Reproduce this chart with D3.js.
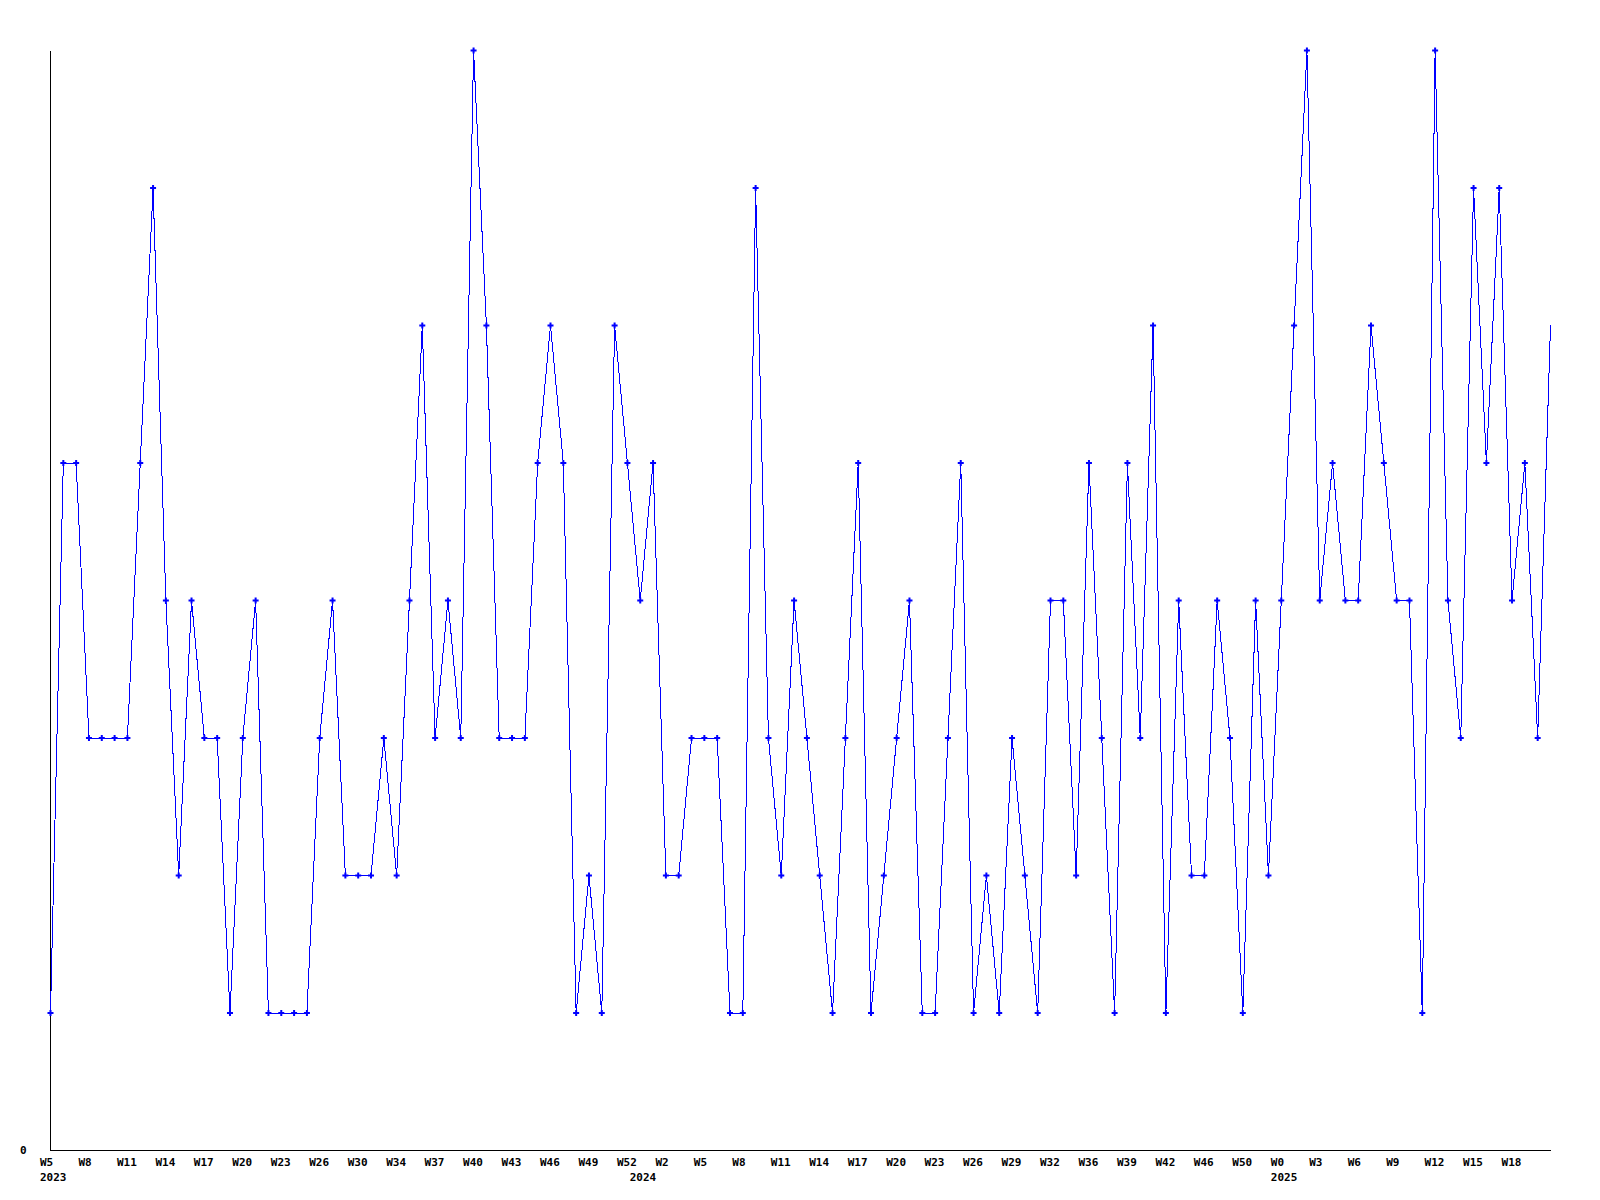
<!DOCTYPE html>
<html>
<head>
<meta charset="utf-8">
<script src="https://cdn.jsdelivr.net/npm/d3@7"></script>
<style>
  html, body { margin: 0; padding: 0; background: #fff; }
  svg { display: block; }
  text { font-family: "DejaVu Sans Mono", "Liberation Mono", monospace; font-weight: bold; font-size: 11px; fill: #000; }
</style>
</head>
<body>
<svg id="chart" width="1600" height="1200"></svg>
<script>
// Weekly values, starting at week 5 of 2023
const values = [
  1,5,5,3,3,3,3,5,7,4,
  2,4,3,3,1,3,4,1,1,1,
  1,3,4,2,2,2,3,2,4,6,
  3,4,3,8,6,3,3,3,5,6,
  5,1,2,1,6,5,4,5,2,2,
  3,3,3,1,1,7,3,2,4,3,
  2,1,3,5,1,2,3,4,1,1,
  3,5,1,2,1,3,2,1,4,4,
  2,5,3,1,5,3,6,1,4,2,
  2,4,3,1,4,2,4,6,8,4,
  5,4,4,6,5,4,4,1,8,4,
  3,7,5,7,4,5,3,6
];

// Tick labels (one every 3 points)
const weekLabels = [
  "W5","W8","W11","W14","W17","W20","W23","W26","W30","W34","W37","W40","W43","W46","W49","W52",
  "W2","W5","W8","W11","W14","W17","W20","W23","W26","W29","W32","W36","W39","W42","W46","W50",
  "W0","W3","W6","W9","W12","W15","W18"
];
const tickStep = 3;

// Year labels and the index of the first point in each year
const years = ["2023","2024","2025"];
const yearStarts = [0, 46, 96];

const yTicks = [0];

const svg = d3.select("#chart");
const mLeft = 50, mRight = 1550, mTop = 50, mBottom = 1150;

const x = d3.scaleLinear().domain([0, values.length - 1]).range([mLeft, mRight]);
const y = d3.scaleLinear().domain([0, 8]).range([mBottom, mTop]);

// Y axis
const yAxis = svg.append("g")
  .attr("transform", `translate(${mLeft},0)`)
  .call(d3.axisLeft(y).tickValues(yTicks).tickSize(0).tickSizeOuter(0).tickFormat(d3.format("d")));
yAxis.select(".domain").attr("stroke", "#000").attr("shape-rendering", "crispEdges");
yAxis.selectAll("text")
  .attr("x", -30).attr("dy", "0.32em").attr("text-anchor", "start")
  .style("font-family", "'DejaVu Sans Mono', monospace").style("font-weight", "bold").style("font-size", "11px");

// X axis
const tickIdx = weekLabels.map((_, i) => i * tickStep);
const xAxis = svg.append("g")
  .attr("transform", `translate(0,${mBottom})`)
  .call(d3.axisBottom(x).tickValues(tickIdx).tickSize(0).tickSizeOuter(0)
    .tickFormat((d, i) => weekLabels[i]));
xAxis.select(".domain").attr("stroke", "#000").attr("shape-rendering", "crispEdges");
xAxis.selectAll("text")
  .attr("text-anchor", "start").attr("x", -10.5).attr("y", 16).attr("dy", 0)
  .style("font-family", "'DejaVu Sans Mono', monospace").style("font-weight", "bold").style("font-size", "11px");

// Year labels
svg.append("g").selectAll("text")
  .data(years)
  .join("text")
  .attr("x", (d, i) => x(yearStarts[i]) - 10)
  .attr("y", mBottom + 31)
  .text(d => d);

// Line
const line = d3.line()
  .x((d, i) => x(i) + 0.5)
  .y(d => y(d) + 0.5);

svg.append("path")
  .datum(values)
  .attr("fill", "none")
  .attr("stroke", "#0000ff")
  .attr("stroke-width", 1)
  .attr("shape-rendering", "crispEdges")
  .attr("d", line);

// Markers (all points except the last): small plus shapes
svg.append("g").selectAll("path")
  .data(values.slice(0, -1))
  .join("path")
  .attr("transform", (d, i) => `translate(${x(i) + 0.5},${y(d) + 0.5})`)
  .attr("d", "M-3,-1H-1V-3H1V-1H3V1H1V3H-1V1H-3Z")
  .attr("fill", "#0000ff")
  .attr("stroke", "none");
</script>
</body>
</html>
